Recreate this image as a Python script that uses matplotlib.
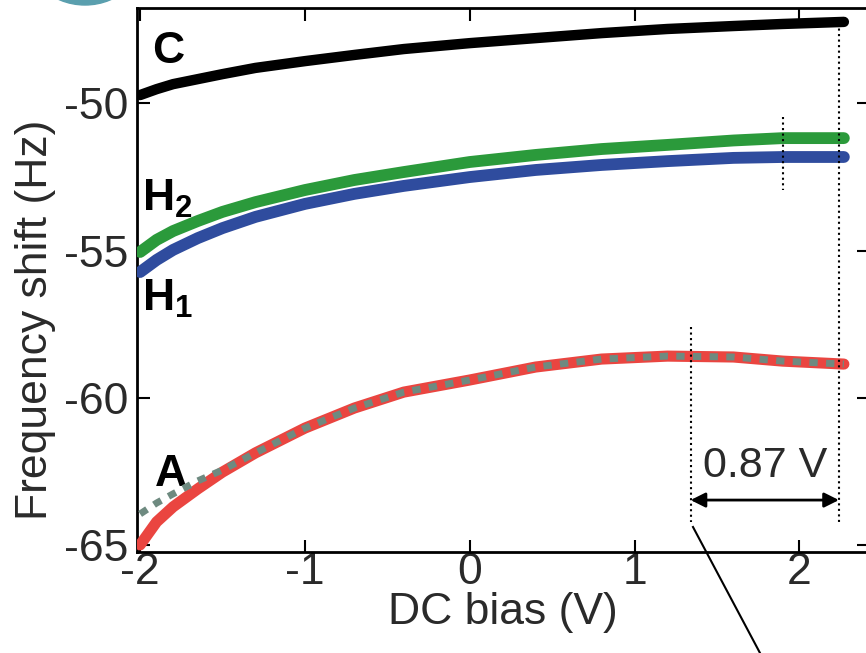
import matplotlib
matplotlib.use("Agg")
import matplotlib.pyplot as plt
from matplotlib.patches import Ellipse
from matplotlib.lines import Line2D

# ================= DATA =================

bias = [-2.0, -1.9, -1.8, -1.65, -1.5, -1.3, -1.0, -0.7, -0.4, 0.0, 0.4, 0.8, 1.2, 1.6, 1.9, 2.27]

shift_c = [-49.73, -49.53, -49.36, -49.19, -49.02, -48.81, -48.58, -48.37,
           -48.17, -47.97, -47.80, -47.63, -47.49, -47.39, -47.32, -47.25]
shift_h2 = [-55.05, -54.64, -54.34, -54.00, -53.69, -53.36, -52.95, -52.61,
            -52.34, -52.00, -51.76, -51.56, -51.42, -51.27, -51.19, -51.19]
shift_h1 = [-55.73, -55.32, -54.98, -54.58, -54.24, -53.86, -53.42, -53.08,
            -52.81, -52.51, -52.27, -52.10, -51.97, -51.86, -51.83, -51.83]
shift_a = [-64.98, -64.20, -63.69, -63.08, -62.51, -61.86, -61.02, -60.34,
           -59.80, -59.39, -58.95, -58.68, -58.58, -58.61, -58.75, -58.85]
fit_a = [-63.93, -63.56, -63.25, -62.81, -62.44, -61.86, -61.02, -60.34,
         -59.80, -59.39, -58.95, -58.68, -58.58, -58.61, -58.75, -58.85]

x_ticks = [-2, -1, 0, 1, 2]
y_ticks = [-65, -60, -55, -50]

# marker lines for the 0.87 V shift
v_peak_a = 1.34
v_peak_h = 1.90
v_end = 2.24

# ================= STYLE =================

plt.rcParams["font.family"] = ["Liberation Sans", "DejaVu Sans"]
plt.rcParams["axes.unicode_minus"] = False
plt.rcParams["mathtext.fontset"] = "custom"
plt.rcParams["mathtext.bf"] = "Liberation Sans:bold"
plt.rcParams["mathtext.rm"] = "Liberation Sans"

txt_color = "#2a2a2a"
fs = 32

# ================= PLOT =================

fig = plt.figure(figsize=(8.66, 6.53), dpi=100)
ax = fig.add_axes([0.158, 0.1547, 0.845, 0.833])

ax.plot(bias, shift_c, color="black", lw=7.5, solid_capstyle="round", zorder=3)
ax.plot(bias, shift_h2, color="#2b9a3b", lw=8.5, solid_capstyle="round", zorder=3)
ax.plot(bias, shift_h1, color="#2f4c9e", lw=8.5, solid_capstyle="round", zorder=3)
ax.plot(bias, shift_a, color="#ea4540", lw=8, solid_capstyle="round", zorder=3)
ax.plot(bias, fit_a, color="#6e8a80", lw=5, linestyle=(0, (1.2, 1.2)),
        dash_capstyle="butt", zorder=4)

# dotted guides
ax.plot([v_end, v_end], [-47.3, -64.2], color="black", lw=1.5, ls=":", zorder=5)
ax.plot([v_peak_a, v_peak_a], [-57.6, -64.2], color="black", lw=1.5, ls=":", zorder=5)
ax.plot([v_peak_h, v_peak_h], [-50.47, -52.95], color="black", lw=1.5, ls=":", zorder=5)

ax.annotate("", xy=(v_peak_a, -63.46), xytext=(v_end, -63.46),
            arrowprops=dict(arrowstyle="<|-|>", color="black", lw=2,
                            mutation_scale=22, shrinkA=0, shrinkB=0))
ax.text((v_peak_a + v_end) / 2, -62.3, "0.87 V", fontsize=31, color=txt_color,
        ha="center", va="center")

# curve labels
ax.text(-1.83, -48.27, "C", fontsize=32, fontweight="bold", ha="center", va="center")
ax.text(-1.835, -53.25, r"$\mathbf{H_2}$", fontsize=32, ha="center", va="center")
ax.text(-1.835, -56.65, r"$\mathbf{H_1}$", fontsize=32, ha="center", va="center")
ax.text(-1.815, -62.58, "A", fontsize=32, fontweight="bold", ha="center", va="center")

ax.set_xlim(-2.02, 2.42)
ax.set_ylim(-65.22, -46.78)
ax.set_xticks(x_ticks)
ax.set_yticks(y_ticks)
ax.tick_params(direction="in", length=9, width=1.5, top=True, right=True,
               labelsize=fs, labelcolor=txt_color)
ax.tick_params(axis="x", pad=0)
ax.tick_params(axis="y", pad=6)
for s in ax.spines.values():
    s.set_linewidth(2)

ax.set_xlabel("DC bias (V)", fontsize=fs, color=txt_color, labelpad=-1)
ax.set_ylabel("Frequency shift (Hz)", fontsize=fs, color=txt_color)
ax.yaxis.set_label_coords(-0.11, 0.426)

# leader line running off the bottom and panel badge
fig.add_artist(Line2D([693 / 866, 760 / 866], [1 - 527 / 653, 0], color="black",
                      lw=1.5, transform=fig.transFigure))
fig.add_artist(Ellipse((85 / 866, 1 + 60 / 653), 130 / 866, 130 / 653,
                       color="#5a9fae", transform=fig.transFigure))

fig.savefig("out.png", dpi=100)
